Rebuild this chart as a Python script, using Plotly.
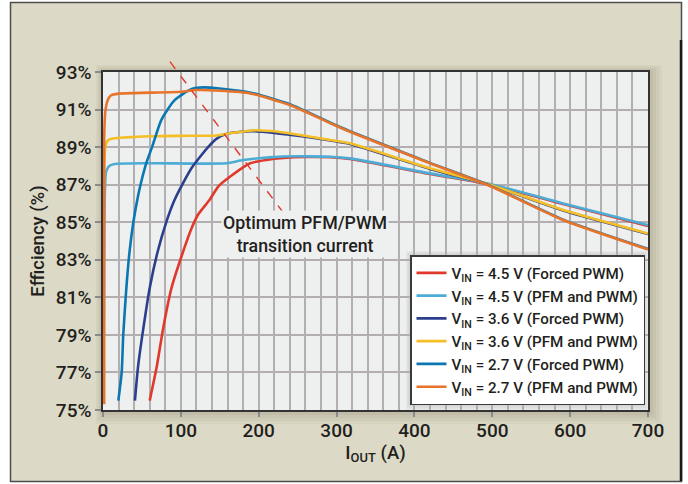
import plotly.graph_objects as go

# ---------------- data ----------------
X_RANGE = [0, 700]
Y_RANGE = [75, 93]
X_TICKS = [0, 100, 200, 300, 400, 500, 600, 700]
Y_TICKS = [75, 77, 79, 81, 83, 85, 87, 89, 91, 93]
Y_TICK_TEXT = ["75%", "77%", "79%", "81%", "83%", "85%", "87%", "89%", "91%", "93%"]

names = [
    "V<sub>IN</sub> = 4.5 V (Forced PWM)",
    "V<sub>IN</sub> = 4.5 V (PFM and PWM)",
    "V<sub>IN</sub> = 3.6 V (Forced PWM)",
    "V<sub>IN</sub> = 3.6 V (PFM and PWM)",
    "V<sub>IN</sub> = 2.7 V (Forced PWM)",
    "V<sub>IN</sub> = 2.7 V (PFM and PWM)",
]
colors = ["#e0392b", "#4cacd6", "#2b3f8e", "#f4bf26", "#0b77b1", "#e8742b"]

x_45_fpwm = [60, 69, 77.5, 88, 101, 114, 122, 137, 148, 163, 189, 210, 232, 260, 292, 317, 420, 497, 591, 700]
y_45_fpwm = [75.5, 77.3, 79.4, 81.5, 83.2, 84.7, 85.4, 86.2, 86.9, 87.42, 88.14, 88.32, 88.42, 88.47, 88.46, 88.37, 87.57, 87.01, 85.97, 84.8]

x_45_pfm = [1, 1.5, 2.5, 4, 8, 15, 60, 158, 180, 232, 292, 317, 420, 497, 591, 700]
y_45_pfm = [79.6, 84.0, 86.8, 87.7, 88.0, 88.1, 88.14, 88.14, 88.31, 88.5, 88.49, 88.4, 87.6, 87.04, 86.0, 84.85]

x_36_fpwm = [41, 45, 52, 60, 70, 82, 92, 103, 114, 125, 135, 146, 160, 190, 220, 260, 292, 317, 420, 497, 591, 700]
y_36_fpwm = [75.5, 77.3, 79.4, 81.5, 83.4, 85.1, 86.2, 87.1, 87.9, 88.5, 89.0, 89.45, 89.72, 89.85, 89.76, 89.55, 89.35, 89.17, 87.84, 86.98, 85.62, 84.37]

x_36_pfm = [1, 1.5, 3, 6, 11, 30, 60, 100, 146, 165, 197, 225, 253, 292, 317, 420, 497, 591, 700]
y_36_pfm = [83.0, 88.0, 89.0, 89.35, 89.45, 89.52, 89.58, 89.6, 89.62, 89.75, 89.9, 89.82, 89.65, 89.38, 89.2, 87.87, 87.0, 85.65, 84.4]

x_27_fpwm = [19.7, 24, 26, 30, 34, 39, 45, 50, 56, 63, 75, 92, 114, 130, 150, 190, 240, 292, 317, 420, 497, 591, 700]
y_27_fpwm = [75.5, 77.0, 79.0, 81.5, 83.4, 85.0, 86.4, 87.3, 88.2, 89.0, 90.45, 91.5, 92.1, 92.18, 92.12, 91.9, 91.28, 90.3, 89.85, 88.16, 86.95, 85.14, 83.58]

x_27_pfm = [1.5, 1.5, 3, 6, 10, 20, 60, 100, 120, 150, 189, 240, 292, 317, 420, 497, 591, 700]
y_27_pfm = [75.3, 89.5, 90.9, 91.5, 91.75, 91.85, 91.9, 91.95, 92.04, 92.0, 91.86, 91.24, 90.27, 89.82, 88.14, 86.93, 85.12, 83.55]

series_x = [x_45_fpwm, x_45_pfm, x_36_fpwm, x_36_pfm, x_27_fpwm, x_27_pfm]
series_y = [y_45_fpwm, y_45_pfm, y_36_fpwm, y_36_pfm, y_27_fpwm, y_27_pfm]

# annotation (dashed guide line) in data units
GUIDE_X = [86, 230]
GUIDE_Y = [93.55, 85.6]
NOTE_X = 260
NOTE_Y = 84.35
NOTE_TEXT = "Optimum PFM/PWM<br>transition current"

# ---------------- layout geometry ----------------
W, H = 688, 484
L, R, T, B = 103, 40, 72, 74
PW, PH = W - L - R, H - T - B

def fx(p):  # pixel x -> paper
    return (p - L) / PW

def fy(p):  # pixel y -> paper
    return (H - B - p) / PH

def dx(v):  # data x -> paper
    return (v - X_RANGE[0]) / (X_RANGE[1] - X_RANGE[0])

def dy(v):  # data y -> paper
    return (v - Y_RANGE[0]) / (Y_RANGE[1] - Y_RANGE[0])

FONT = "Roboto, Arial, sans-serif"
TXT = "#231f20"
BEIGE = "#dcdac6"
PLOTBG = "#eef0f0"
GRID = "#b3aeb0"

fig = go.Figure()
for xs, ys, nm, c in zip(series_x, series_y, names, colors):
    fig.add_trace(go.Scatter(x=xs, y=ys, name=nm, mode="lines",
                             line=dict(color=c, width=2.6, shape="spline", smoothing=0.6)))

shapes = []
# outer beige frame
shapes.append(dict(type="rect", xref="paper", yref="paper", layer="below",
                   x0=fx(10.5), x1=fx(681.5), y0=fy(481.5), y1=fy(2.5),
                   fillcolor=BEIGE, line=dict(color="#4d4d4d", width=1.5)))
# darker right edge of the frame
shapes.append(dict(type="line", xref="paper", yref="paper", layer="below",
                   x0=fx(681), x1=fx(681), y0=fy(481), y1=fy(40),
                   line=dict(color="#1a1a1a", width=2.5)))
# soft shadow around plot area
for i, a in enumerate([0.05, 0.05, 0.05, 0.06, 0.07]):
    off = 14 - i * 3
    shapes.append(dict(type="rect", xref="paper", yref="paper", layer="below",
                       x0=fx(L - off * 0.5), x1=fx(L + PW + off), y0=fy(T + PH + off), y1=fy(T - off * 0.5),
                       fillcolor=f"rgba(90,85,60,{a})", line=dict(width=0)))
# plot area background
shapes.append(dict(type="rect", xref="paper", yref="paper", layer="below",
                   x0=0, x1=1, y0=0, y1=1, fillcolor=PLOTBG, line=dict(width=0)))
# legend shadow
LEG_L, LEG_T, LEG_R, LEG_B = 410, 255, 641, 403
for i, a in enumerate([0.05, 0.06, 0.07]):
    off = 8 - i * 2.5
    shapes.append(dict(type="rect", xref="paper", yref="paper", layer="below",
                       x0=fx(LEG_L - off * 0.5), x1=fx(LEG_R + off), y0=fy(LEG_B + off), y1=fy(LEG_T - off * 0.5),
                       fillcolor=f"rgba(90,90,90,{a})", line=dict(width=0)))
# dashed guide line
shapes.append(dict(type="line", xref="paper", yref="paper", layer="above",
                   x0=dx(GUIDE_X[0]), y0=dy(GUIDE_Y[0]), x1=dx(GUIDE_X[1]), y1=dy(GUIDE_Y[1]),
                   line=dict(color="#e0392b", width=1.4, dash="dash")))

fig.update_layout(
    width=W, height=H,
    margin=dict(l=L, r=R, t=T, b=B, pad=0),
    paper_bgcolor="white",
    plot_bgcolor="rgba(0,0,0,0)",
    font=dict(family=FONT, color=TXT, size=18, weight=500),
    shapes=shapes,
    showlegend=True,
    legend=dict(x=fx(LEG_L), y=fy(LEG_T), xanchor="left", yanchor="top",
                bgcolor="white", bordercolor="#3a3a3a", borderwidth=1.5,
                font=dict(family=FONT, size=15.2, color=TXT, weight=500),
                itemwidth=30, tracegroupgap=0),
    annotations=[dict(x=NOTE_X, y=NOTE_Y, xref="x", yref="y", text=NOTE_TEXT,
                      showarrow=False, font=dict(family=FONT, size=17.8, color=TXT, weight=500),
                      bgcolor=PLOTBG, align="center")],
)
fig.update_xaxes(range=X_RANGE, tickvals=X_TICKS, showgrid=True,
                 gridcolor=GRID, gridwidth=2,
                 minor=dict(dtick=20, showgrid=True, gridcolor=GRID, gridwidth=2),
                 ticks="outside", ticklen=5, tickcolor="#8a8a8a", tickwidth=1.5,
                 ticklabelstandoff=-3,
                 showline=True, linecolor="#333333", linewidth=1.5, mirror=True,
                 zeroline=False, tickfont=dict(size=19, weight=500),
                 title=dict(text="I<sub>OUT</sub> (A)", font=dict(size=18.5, weight=500), standoff=4))
fig.update_yaxes(range=Y_RANGE, tickvals=Y_TICKS, ticktext=Y_TICK_TEXT, showgrid=True,
                 gridcolor=GRID, gridwidth=2,
                 ticks="outside", ticklen=6, tickcolor="#8a8a8a", tickwidth=1.5,
                 showline=True, linecolor="#333333", linewidth=1.5, mirror=True,
                 zeroline=False, tickfont=dict(size=19, weight=500),
                 title=dict(text="Efficiency (%)", font=dict(size=18.5, weight=500), standoff=6))

fig.write_html("out.html", config={"displayModeBar": False},
               post_script="document.body.style.margin='0';")
